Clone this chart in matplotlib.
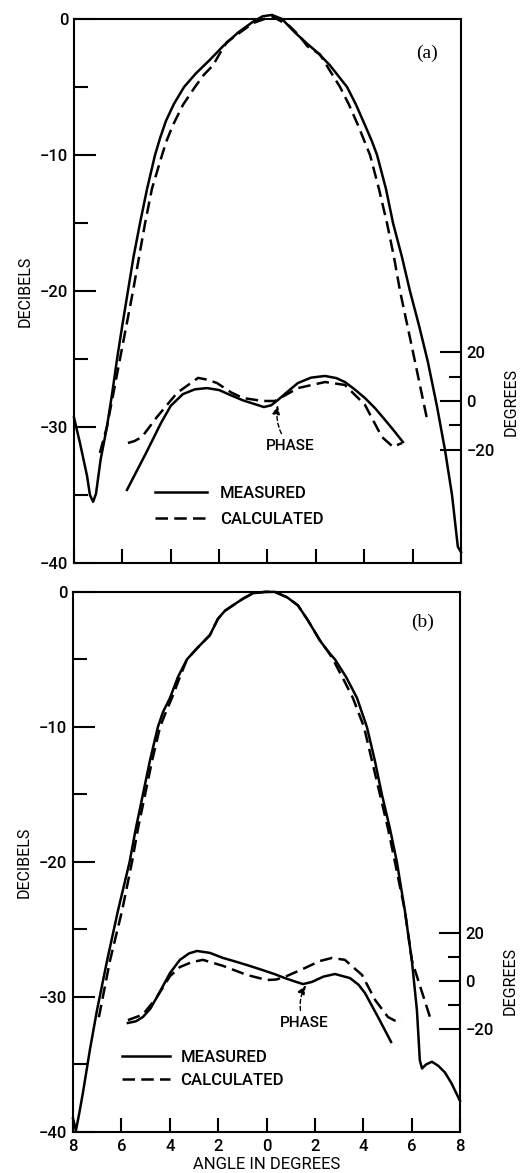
import matplotlib
matplotlib.use("Agg")
import matplotlib.pyplot as plt
from matplotlib.ticker import FuncFormatter

plt.rcParams["font.family"] = ["Roboto", "Liberation Sans", "DejaVu Sans"]
plt.rcParams["font.weight"] = "medium"

# ---- panel (a) --------------------------------------------------------
# amplitude, dB vs angle (deg)
a_meas_ang = [-8.00, -7.75, -7.46, -7.34, -7.21, -7.09, -6.90, -6.64, -6.42, -6.22,
              -6.00, -5.77, -5.54, -5.27, -4.98, -4.65, -4.44, -4.20, -3.87, -3.45,
              -2.96, -2.38, -1.84, -1.22, -0.60, -0.20, 0.19, 0.60, 1.14,
              1.63, 2.09, 2.58, 3.29, 3.66, 4.03, 4.32, 4.53, 4.90, 5.19,
              5.56, 5.89, 6.26, 6.63, 7.01, 7.34, 7.63, 7.87, 8.00]
a_meas_db = [-29.3, -31.2, -33.6, -35.0, -35.5, -34.9, -32.4, -30.0, -27.5, -25.0,
             -22.5, -20.0, -17.5, -15.0, -12.5, -10.0, -8.75, -7.5, -6.25, -5.0,
             -4.0, -3.0, -2.0, -1.0, -0.2, 0.2, 0.3, 0.0, -1.0,
             -1.8, -2.5, -3.4, -5.0, -6.3, -7.8, -9.0, -10.0, -12.5, -15.0,
             -17.5, -20.0, -22.5, -25.2, -28.5, -31.7, -35.0, -38.8, -39.2]
a_calc_ang = [-6.93, -6.64, -6.10, -5.56, -5.31, -5.06, -4.78, -4.36, -4.16, -3.91,
              -3.49, -3.00, -2.63, -2.25, -1.96, -1.68, -1.14, -0.60, 0.19, 0.90,
              1.30, 1.65, 2.17, 2.58, 3.00, 3.37, 3.74, 3.99, 4.24, 4.61,
              4.94, 5.23, 5.48, 5.97, 6.63]
a_calc_db = [-31.9, -30.0, -25.0, -20.0, -17.5, -15.0, -12.5, -10.0, -8.9, -7.8,
             -6.3, -5.0, -4.1, -3.4, -2.5, -1.7, -1.0, -0.3, 0.2, -0.5,
             -1.2, -2.0, -2.6, -3.8, -5.0, -6.3, -7.8, -8.9, -10.0, -12.5,
             -15.0, -17.5, -20.0, -24.1, -29.7]
# phase, degrees vs angle (deg)
a_pmeas_ang = [-5.81, -5.02, -4.40, -4.00, -3.50, -3.00, -2.50, -2.00, -1.55, -1.00,
               -0.43, -0.15, 0.15, 0.43, 0.85, 1.26, 1.80, 2.38, 2.85, 3.20,
               3.60, 4.03, 4.45, 4.86, 5.25, 5.60]
a_pmeas_deg = [-36.6, -21.4, -9.0, -2.0, 2.8, 4.8, 5.3, 4.5, 2.5, 0.2,
               -1.6, -2.5, -1.8, 0.4, 4.0, 7.4, 9.6, 10.3, 9.4, 7.8,
               4.8, 1.2, -3.0, -7.8, -12.5, -16.9]
a_pcalc_ang = [-5.77, -5.50, -5.19, -4.57, -3.74, -2.87, -2.50, -2.09, -1.50, -1.01,
               -0.19, 0.31, 1.26, 2.38, 3.20, 4.03, 4.73, 5.19, 5.56]
a_pcalc_deg = [-17.3, -16.5, -14.8, -6.6, 3.3, 9.5, 8.8, 7.4, 3.5, 1.2,
               0.0, 0.0, 5.3, 7.8, 6.6, -1.6, -14.8, -18.9, -17.3]

# ---- panel (b) --------------------------------------------------------
b_meas_ang = [-8.00, -7.88, -7.75, -7.59, -7.30, -7.01, -6.59, -6.14, -5.66, -5.40,
              -5.11, -4.82, -4.49, -4.28, -3.99, -3.66, -3.29, -2.83, -2.34, -2.01,
              -1.72, -1.39, -0.97, -0.56, -0.06, 0.35, 0.85, 1.30, 1.71, 2.21,
              2.54, 2.83, 3.29, 3.74, 4.15, 4.48, 4.77, 5.10, 5.39, 5.72,
              6.01, 6.22, 6.34, 6.43, 6.60, 6.84, 7.10, 7.38, 7.65, 7.92, 8.00]
b_meas_db = [-39.0, -39.9, -38.7, -37.1, -33.9, -31.0, -27.3, -23.6, -20.0, -17.5,
             -15.0, -12.5, -10.0, -8.9, -7.85, -6.3, -5.0, -4.1, -3.2, -2.0,
             -1.4, -1.0, -0.5, -0.1, 0.0, 0.0, -0.4, -1.0, -2.1, -3.6,
             -4.4, -5.0, -6.3, -7.85, -10.0, -12.5, -15.0, -17.5, -20.0, -23.6,
             -27.3, -31.0, -34.7, -35.3, -35.0, -34.8, -35.1, -35.6, -36.4, -37.4, -37.7]
b_calc_ang = [-6.93, -6.47, -5.97, -5.56, -5.31, -5.02, -4.73, -4.40, -4.16, -3.91,
              -3.58, -3.29, -2.83, -2.34, -2.01, -1.72, -1.39, -0.97, -0.56, -0.06,
              0.35, 0.85, 1.30, 1.71, 2.21, 2.54, 2.75, 3.16, 3.57, 4.03,
              4.36, 4.69, 5.02, 5.31, 5.72, 6.01, 6.76]
b_calc_db = [-31.5, -27.3, -23.6, -20.0, -17.5, -15.0, -12.5, -10.0, -8.9, -7.85,
             -6.3, -5.0, -4.1, -3.2, -2.0, -1.4, -1.0, -0.5, -0.1, 0.0,
             0.0, -0.4, -1.0, -2.1, -3.6, -4.4, -5.0, -6.4, -7.85, -10.0,
             -12.5, -15.0, -17.5, -20.0, -23.6, -27.3, -31.5]
b_pmeas_ang = [-5.73, -5.40, -5.11, -4.80, -4.53, -3.99, -3.58, -3.20, -2.87, -2.34,
               -1.80, -1.22, -0.70, -0.15, 0.35, 0.76, 1.20, 1.51, 1.88, 2.35,
               2.83, 3.45, 3.80, 4.07, 4.61, 5.15]
b_pmeas_deg = [-17.5, -16.8, -15.0, -11.5, -6.7, 3.3, 8.8, 11.5, 12.5, 11.7,
               9.6, 7.9, 6.3, 4.5, 2.8, 1.2, -0.3, -1.3, -0.4, 1.8,
               2.9, 1.2, -1.5, -5.0, -15.0, -25.4]
b_pcalc_ang = [-5.73, -5.11, -4.53, -3.99, -3.58, -3.10, -2.63, -1.80, -0.81, 0.02,
               0.40, 0.76, 1.59, 2.20, 2.71, 3.24, 3.95, 4.49, 5.02, 5.30, 5.60]
b_pcalc_deg = [-16.3, -14.0, -6.7, 2.0, 5.8, 7.8, 8.8, 6.3, 2.5, 0.4,
               0.6, 1.7, 5.4, 8.3, 9.6, 8.8, 2.5, -7.9, -15.0, -16.5, -16.7]

db_major = [-40, -30, -20, -10, 0]
db_minor = [-35, -25, -15, -5]
phase_major = [-20, 0, 20]
phase_minor = [-10, 10]
angle_ticks = [-8, -6, -4, -2, 0, 2, 4, 6, 8]

LW = 1.8
DASH = (0, (5, 2.5))
FS = 12


def draw_panel(ax, meas, calc, pmeas, pcalc, phase_lim, tag, phase_note,
               legend_anchor, legend_pitch, handle_len, text_pad, deg_label_y, show_x):
    ax.plot(*meas, color="black", lw=LW, clip_on=False, label="MEASURED")
    ax.plot(*calc, color="black", lw=LW, ls=DASH, clip_on=False, label="CALCULATED")
    ax.set_xlim(-8, 8)
    ax.set_ylim(-40, 0)
    for s in ax.spines.values():
        s.set_linewidth(1.5)

    ax.set_yticks(db_major)
    ax.set_yticklabels(["\u221240", "\u221230", "\u221220", "\u221210", "0"])
    ax.set_yticks(db_minor, minor=True)
    ax.tick_params(axis="y", which="major", direction="in", length=16, width=1.5,
                   pad=4, labelsize=FS)
    ax.tick_params(axis="y", which="minor", direction="in", length=10, width=1.5)
    ax.set_xticks(angle_ticks)
    ax.xaxis.set_major_formatter(FuncFormatter(lambda v, p: f"{abs(int(v))}"))
    ax.tick_params(axis="x", direction="in", length=10, width=1.5, pad=5,
                   labelsize=FS, labelbottom=show_x)
    ax.set_ylabel("DECIBELS", fontsize=11.5)
    ax.yaxis.set_label_coords(-0.107, 0.5)

    ax2 = ax.twinx()
    ax2.plot(*pmeas, color="black", lw=LW)
    ax2.plot(*pcalc, color="black", lw=LW, ls=DASH)
    ax2.set_ylim(*phase_lim)
    for s in ax2.spines.values():
        s.set_visible(False)
    ax2.set_yticks(phase_major)
    ax2.set_yticklabels(["\u221220", "0", "20"])
    ax2.set_yticks(phase_minor, minor=True)
    ax2.tick_params(axis="y", which="major", direction="in", length=15, width=1.5,
                    pad=4, labelsize=FS)
    ax2.tick_params(axis="y", which="minor", direction="in", length=9, width=1.5)
    ax2.set_ylabel("DEGREES", fontsize=11.5)
    ax2.yaxis.set_label_coords(1.11, deg_label_y)

    tip, txt = phase_note
    ax2.annotate("PHASE", xy=tip, xytext=txt, ha="center", va="center", fontsize=11,
                 arrowprops=dict(arrowstyle="-|>,head_length=0.5,head_width=0.2",
                                 ls=(0, (3, 2)), lw=1.0, color="black",
                                 connectionstyle="arc3,rad=-0.25", shrinkA=2, shrinkB=0))

    ax.text(*tag[1], tag[0], transform=ax.transAxes, ha="center", va="center",
            fontsize=14, fontweight="normal", family=["Liberation Serif", "DejaVu Serif"])

    ax.legend(loc="center left", bbox_to_anchor=legend_anchor, frameon=False,
              fontsize=FS, borderpad=0, borderaxespad=0, handlelength=handle_len,
              handletextpad=text_pad, labelspacing=legend_pitch)
    return ax2


fig = plt.figure(figsize=(5.2, 11.73), dpi=100)
ax_a = fig.add_axes([0.1423, 0.5200, 0.7442, 0.4638])
ax_b = fig.add_axes([0.1404, 0.0350, 0.7442, 0.4604])

draw_panel(ax_a, (a_meas_ang, a_meas_db), (a_calc_ang, a_calc_db),
           (a_pmeas_ang, a_pmeas_deg), (a_pcalc_ang, a_pcalc_deg),
           (-66.7, 157.2), ("(a)", (0.912, 0.9375)),
           ((0.43, -1.6), (0.93, -18.5)),
           (0.209, 0.104), 0.68, 3.1, 0.8, 0.296, False)

draw_panel(ax_b, (b_meas_ang, b_meas_db), (b_calc_ang, b_calc_db),
           (b_pmeas_ang, b_pmeas_deg), (b_pcalc_ang, b_pcalc_deg),
           (-62.9, 162.1), ("(b)", (0.902, 0.944)),
           ((1.63, -1.7), (1.55, -17.5)),
           (0.127, 0.117), 0.45, 2.9, 0.6, 0.28, True)
ax_b.set_xlabel("ANGLE IN DEGREES", fontsize=FS, labelpad=2)

fig.savefig("out.png", dpi=100)
